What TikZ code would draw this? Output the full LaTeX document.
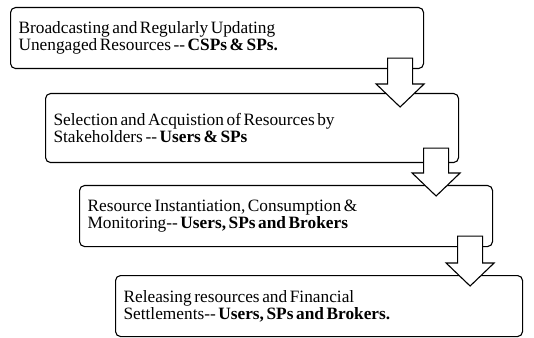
\documentclass[tikz,border=0pt]{standalone}
\usepackage{fontspec}
\setmainfont{Liberation Serif}
\usetikzlibrary{calc}

\begin{document}
\begin{tikzpicture}
  [x=1pt, y=1pt,
   stage/.style={draw, line width=1.1pt, rounded corners=5pt, anchor=north west,
     align=left, text width=397pt, inner xsep=8pt, minimum height=61pt,
     font=\fontsize{17.3}{17.2}\selectfont,
     execute at begin node={\spaceskip=0.15em\relax}},
   down arrow/.style={draw, line width=1.1pt, fill=white,
     to path={let \p1=(\tikztostart), \p2=(\tikztotarget) in
       (\x1-12.5pt,\y1) -- (\x1+12.5pt,\y1) -- (\x1+12.5pt,\y2+23pt)
       -- (\x1+24pt,\y2+23pt) -- (\x1,\y2) -- (\x1-24pt,\y2+23pt)
       -- (\x1-12.5pt,\y2+23pt) -- cycle}}]
  \useasboundingbox (0, 0) rectangle (534, 337);
  \node[stage] (b1) at (10, 330)
    {Broadcasting and Regularly Updating\\
     Unengaged Resources -{}- \textbf{CSPs \& SPs.}};
  \node[stage, minimum height=69pt] (b2) at (45, 244)
    {Selection and Acquistion of Resources by\\
     Stakeholders -{}- \textbf{Users \& SPs}};
  \node[stage] (b3) at (79, 152)
    {Resource Instantiation, Consumption \&\\
     Monitoring-{}- \textbf{Users, SPs and Brokers}};
  \node[stage, text width=391pt] (b4) at (115, 62)
    {Releasing resources and Financial\\
     Settlements-{}- \textbf{Users, SPs and Brokers.}};
  % arrows between stages
  \coordinate (t1) at ([xshift=-24pt, yshift=11pt]b1.south east);
  \coordinate (t2) at ([xshift=-23pt, yshift=15pt]b2.south east);
  \coordinate (t3) at ([xshift=-23pt, yshift=11pt]b3.south east);
  \draw[down arrow] (t1) to ($(t1 |- b2.north) + (0, -14)$);
  \draw[down arrow] (t2) to ($(t2 |- b3.north) + (0, -11)$);
  \draw[down arrow] (t3) to ($(t3 |- b4.north) + (0, -11)$);
\end{tikzpicture}
\end{document}
